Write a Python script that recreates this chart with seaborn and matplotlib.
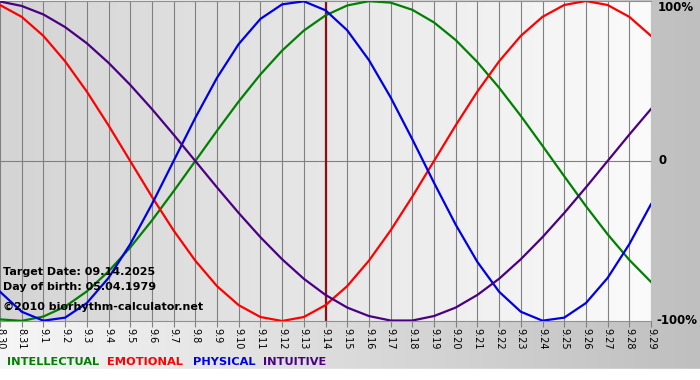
import numpy as np
import pandas as pd
import matplotlib
matplotlib.use('Agg')
import matplotlib.pyplot as plt
from matplotlib.colors import LinearSegmentedColormap
import seaborn as sns

# dni na osi X (8.30 - 9.29)
days = ['8.30', '8.31'] + ['9.%d' % i for i in range(1, 30)]

# wartosci (-1 .. 1)
intellectual = [-0.990, -0.999, -0.972, -0.910, -0.815, -0.690, -0.541, -0.372, -0.189, 0.000,
                0.189, 0.372, 0.541, 0.690, 0.815, 0.910, 0.972, 0.999, 0.990, 0.945,
                0.866, 0.756, 0.618, 0.458, 0.282, 0.095, -0.095, -0.282, -0.458, -0.618,
                -0.756]
emotional = [0.975, 0.901, 0.782, 0.623, 0.434, 0.223, 0.000, -0.223, -0.434, -0.623,
             -0.782, -0.901, -0.975, -1.000, -0.975, -0.901, -0.782, -0.623, -0.434, -0.223,
             0.000, 0.223, 0.434, 0.623, 0.782, 0.901, 0.975, 1.000, 0.975, 0.901,
             0.782]
physical = [-0.817, -0.942, -0.998, -0.979, -0.888, -0.731, -0.520, -0.270, 0.000, 0.270,
            0.520, 0.731, 0.888, 0.979, 0.998, 0.942, 0.817, 0.631, 0.398, 0.136,
            -0.136, -0.398, -0.631, -0.817, -0.942, -0.998, -0.979, -0.888, -0.731, -0.520,
            -0.270]
intuitive = [0.997, 0.969, 0.916, 0.837, 0.736, 0.614, 0.476, 0.325, 0.165, 0.000,
             -0.165, -0.325, -0.476, -0.614, -0.736, -0.837, -0.916, -0.969, -0.997, -0.997,
             -0.969, -0.916, -0.837, -0.736, -0.614, -0.476, -0.325, -0.165, 0.000, 0.165,
             0.325]

cycles = ['INTELLECTUAL', 'EMOTIONAL', 'PHYSICAL', 'INTUITIVE']
colors = {'INTELLECTUAL': '#008000', 'EMOTIONAL': '#ff0000',
          'PHYSICAL': '#0000e6', 'INTUITIVE': '#4b0082'}
target_day = '9.14'
info_lines = ['Target Date: 09.14.2025', 'Day of birth: 05.04.1979']
copyright_txt = '\u00a92010 biorhythm-calculator.net'

rows = []
for name, vals in zip(cycles, [intellectual, emotional, physical, intuitive]):
    for i, v in enumerate(vals):
        rows.append({'day': i, 'value': v, 'cycle': name})
data = pd.DataFrame(rows)

W, H = 700, 380
fig = plt.figure(figsize=(W / 100, H / 100), dpi=100)

# tlo calej figury - gradient
bg = fig.add_axes([0, 0, 1, 1], zorder=-10)
grad = np.linspace(0, 1, 256).reshape(1, -1)
bg.imshow(grad, extent=[0, 1, 11 / H, 1], aspect='auto',
          cmap=LinearSegmentedColormap.from_list('bg', ['#f6f6f6', '#bfbfbf']))
bg.axhspan(0, 11 / H, color='white')
bg.set_xlim(0, 1)
bg.set_ylim(0, 1)
bg.axis('off')

ax = fig.add_axes([0, 59 / H, 651 / W, 320 / H])
ax.imshow(grad, extent=[0, len(days) - 1, -1, 1], aspect='auto', zorder=0,
          cmap=LinearSegmentedColormap.from_list('pl', ['#d4d4d4', '#fbfbfb']))

for i in range(len(days)):
    ax.axvline(i, color='#808080', lw=0.8, zorder=1)
ax.axhline(0, color='#808080', lw=0.8, zorder=1)
ax.axvline(days.index(target_day), color='#8b1010', lw=1.6, zorder=2)

sns.lineplot(data=data, x='day', y='value', hue='cycle', palette=colors,
             linewidth=1.6, legend=False, ax=ax, sort=False, zorder=3)

ax.set_xlim(0, len(days) - 1)
ax.set_ylim(-1.0, 1.0)
ax.set_xlabel('')
ax.set_ylabel('')
ax.set_yticks([])
ax.set_xticks(range(len(days)))
ax.set_xticklabels(days, rotation=-90, fontsize=7)
ax.tick_params(axis='x', length=4, color='#808080', pad=1)
for s in ['left', 'right']:
    ax.spines[s].set_visible(False)
for s in ['top', 'bottom']:
    ax.spines[s].set_color('#909090')
    ax.spines[s].set_linewidth(0.8)

# etykiety po prawej stronie
tr = ax.get_yaxis_transform()
ax.text(1.01, 1.0, '100%', transform=tr, ha='left', va='top', fontsize=8.5,
        fontweight='bold', clip_on=False)
ax.text(1.012, 0.0, '0', transform=tr, ha='left', va='center', fontsize=8.5,
        fontweight='bold', clip_on=False)
ax.text(1.009, -1.0, '-100%', transform=tr, ha='left', va='center', fontsize=8.5,
        fontweight='bold', clip_on=False)

# informacje w lewym dolnym rogu
fig.text(3 / W, 1 - 272 / H, info_lines[0], ha='left', va='center', fontsize=8, fontweight='bold')
fig.text(3 / W, 1 - 287 / H, info_lines[1], ha='left', va='center', fontsize=8, fontweight='bold')
fig.text(3 / W, 1 - 307 / H, copyright_txt, ha='left', va='center', fontsize=8, fontweight='bold')

# legenda
leg_x = [7, 107, 193, 263]
for name, x in zip(cycles, leg_x):
    fig.text(x / W, 1 - 362 / H, name, color=colors[name], ha='left', va='center',
             fontsize=8.2, fontweight='bold')

fig.savefig('out.png', dpi=100)
